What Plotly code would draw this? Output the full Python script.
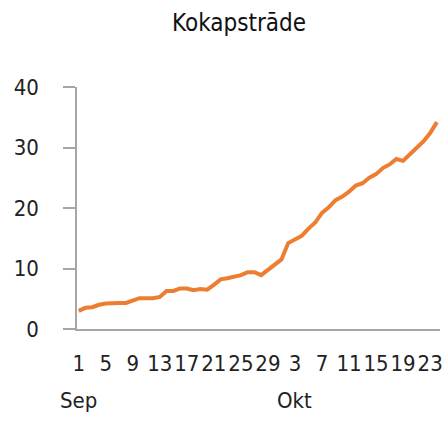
import plotly.graph_objects as go
import pandas as pd

title = "Kokapstrāde"
dates = pd.date_range("2020-09-01", "2020-10-24", freq="D")
values = [3.0, 3.5, 3.6, 4.0, 4.2, 4.3, 4.3, 4.3, 4.7, 5.1,
          5.1, 5.1, 5.3, 6.3, 6.3, 6.7, 6.7, 6.4, 6.6, 6.5,
          7.3, 8.2, 8.4, 8.6, 8.9, 9.4, 9.4, 8.9, 9.8, 10.6,
          11.5, 14.2, 14.8, 15.4, 16.6, 17.6, 19.2, 20.1, 21.3, 21.9,
          22.7, 23.7, 24.1, 25.0, 25.6, 26.6, 27.2, 28.1, 27.8, 28.8,
          29.8, 31.0, 32.4, 34.2]
tick_dates = ["2020-09-01", "2020-09-05", "2020-09-09", "2020-09-13", "2020-09-17",
              "2020-09-21", "2020-09-25", "2020-09-29", "2020-10-03", "2020-10-07",
              "2020-10-11", "2020-10-15", "2020-10-19", "2020-10-23"]
tick_labels = ["1", "5", "9", "13", "17", "21", "25", "29", "3", "7",
               "11", "15", "19", "23"]
month_dates = ["2020-09-01", "2020-10-03"]
month_labels = ["Sep", "Okt"]
y_ticks = [0, 10, 20, 30, 40]

FONT = "DejaVu Sans Condensed, DejaVu Sans, sans-serif"

W, H = 444, 436

fig = go.Figure()
fig.add_trace(go.Scatter(x=dates, y=values, mode="lines",
                         line=dict(color="#ED7D31", width=4), hoverinfo="skip"))

for d, m in zip(month_dates, month_labels):
    fig.add_annotation(x=d, xref="x", y=0, yref="paper", yshift=-71,
                       yanchor="middle", xanchor="center", showarrow=False,
                       text=m, font=dict(family=FONT, size=22, color="#222222"))

fig.update_layout(
    width=W, height=H,
    margin=dict(l=77, r=4, t=87, b=107),
    paper_bgcolor="white", plot_bgcolor="white",
    showlegend=False,
    font=dict(family=FONT, size=22, color="#222222"),
    title=dict(text=title, x=239/W, xanchor="center", y=1-23/H, yanchor="middle",
               font=dict(family=FONT, size=24, color="#111111")),
)
fig.update_xaxes(
    range=[pd.Timestamp("2020-09-01") - pd.Timedelta(hours=6),
           pd.Timestamp("2020-10-24") + pd.Timedelta(hours=11)],
    tickmode="array", tickvals=tick_dates, ticktext=tick_labels,
    showline=True, linecolor="#A6A6A6", linewidth=1.5,
    showgrid=False, zeroline=False, ticks="", ticklabelstandoff=14,
    tickangle=0, automargin=False,
)
fig.update_yaxes(
    range=[0, 40], tickmode="array", tickvals=y_ticks,
    showline=True, linecolor="#A6A6A6", linewidth=1.5,
    ticks="outside", ticklen=12, tickcolor="#A6A6A6", tickwidth=1.5,
    showgrid=False, zeroline=False, ticklabelstandoff=20, automargin=False,
)

fig.write_html("out.html", config={"displayModeBar": False},
               post_script="document.body.style.margin='0';document.body.style.overflow='hidden';")
